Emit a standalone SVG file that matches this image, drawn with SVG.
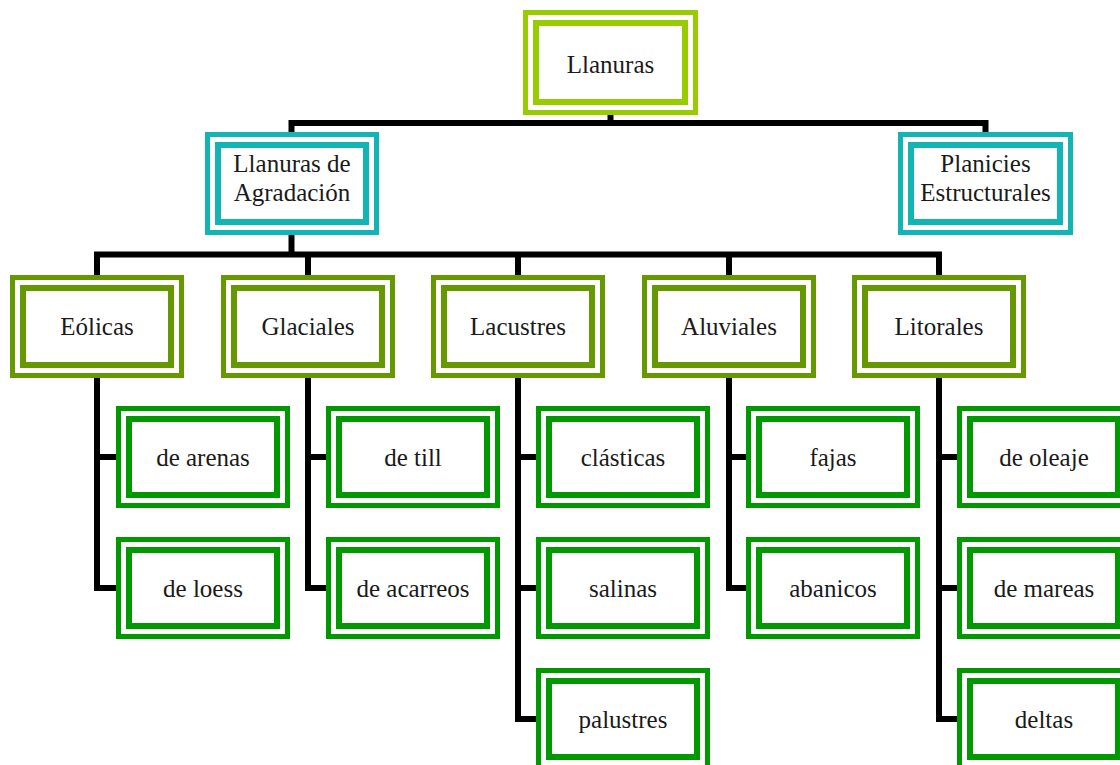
<svg xmlns="http://www.w3.org/2000/svg" width="1120" height="765" viewBox="0 0 1120 765">
<style>
.o{fill:#ffffff;stroke-width:5}
.i{fill:none;stroke-width:6}
.lime{stroke:#99CC00}
.teal{stroke:#12B4B4}
.olive{stroke:#669900}
.green{stroke:#009900}
text{font-family:"Liberation Serif","DejaVu Serif",serif;font-size:25px;fill:#1a1a1a;text-anchor:middle}
.c{fill:none;stroke:#000000;stroke-width:6;stroke-linejoin:miter}
</style>
<rect width="1120" height="765" fill="#ffffff"/>
<g id="connectors">
<path class="c" d="M610.5,115 V123"/>
<path class="c" d="M291.5,132 V123 H985.5 V132"/>
<path class="c" d="M291.5,235 V254.5"/>
<path class="c" d="M97,275 V254.5 H939 V275"/>
<path class="c" d="M308,254.5 V275"/>
<path class="c" d="M518,254.5 V275"/>
<path class="c" d="M729,254.5 V275"/>
<path class="c" d="M97,378 V588 H116"/>
<path class="c" d="M97,457 H116"/>
<path class="c" d="M308,378 V588 H326"/>
<path class="c" d="M308,457 H326"/>
<path class="c" d="M518,378 V719 H536"/>
<path class="c" d="M518,457 H536"/>
<path class="c" d="M518,588 H536"/>
<path class="c" d="M729,378 V588 H746"/>
<path class="c" d="M729,457 H746"/>
<path class="c" d="M939,378 V719 H957"/>
<path class="c" d="M939,457 H957"/>
<path class="c" d="M939,588 H957"/>
</g>
<g id="n-llanuras"><rect class="o lime" x="525.5" y="12.5" width="170" height="100"/><rect class="i lime" x="536" y="23" width="149" height="79"/><text x="610.5" y="73">Llanuras</text></g>
<g id="n-agradacion"><rect class="o teal" x="207.5" y="134.5" width="169" height="98"/><rect class="i teal" x="218" y="145" width="148" height="77"/><text x="292" y="172">Llanuras de</text><text x="292" y="201">Agradación</text></g>
<g id="n-planicies"><rect class="o teal" x="900.5" y="134.5" width="170" height="98"/><rect class="i teal" x="911" y="145" width="149" height="77"/><text x="985.5" y="172">Planicies</text><text x="985.5" y="201">Estructurales</text></g>
<g id="n-eolicas"><rect class="o olive" x="12.5" y="277.5" width="169" height="98"/><rect class="i olive" x="23" y="288" width="148" height="77"/><text x="97" y="335">Eólicas</text></g>
<g id="n-glaciales"><rect class="o olive" x="223.5" y="277.5" width="169" height="98"/><rect class="i olive" x="234" y="288" width="148" height="77"/><text x="308" y="335">Glaciales</text></g>
<g id="n-lacustres"><rect class="o olive" x="433.5" y="277.5" width="169" height="98"/><rect class="i olive" x="444" y="288" width="148" height="77"/><text x="518" y="335">Lacustres</text></g>
<g id="n-aluviales"><rect class="o olive" x="644.5" y="277.5" width="169" height="98"/><rect class="i olive" x="655" y="288" width="148" height="77"/><text x="729" y="335">Aluviales</text></g>
<g id="n-litorales"><rect class="o olive" x="854.5" y="277.5" width="169" height="98"/><rect class="i olive" x="865" y="288" width="148" height="77"/><text x="939" y="335">Litorales</text></g>
<g id="n-de-arenas"><rect class="o green" x="118.5" y="408.5" width="169" height="97"/><rect class="i green" x="129" y="419" width="148" height="76"/><text x="203" y="466">de arenas</text></g>
<g id="n-de-loess"><rect class="o green" x="118.5" y="539.5" width="169" height="97"/><rect class="i green" x="129" y="550" width="148" height="76"/><text x="203" y="597">de loess</text></g>
<g id="n-de-till"><rect class="o green" x="328.5" y="408.5" width="169" height="97"/><rect class="i green" x="339" y="419" width="148" height="76"/><text x="413" y="466">de till</text></g>
<g id="n-de-acarreos"><rect class="o green" x="328.5" y="539.5" width="169" height="97"/><rect class="i green" x="339" y="550" width="148" height="76"/><text x="413" y="597">de acarreos</text></g>
<g id="n-clasticas"><rect class="o green" x="538.5" y="408.5" width="169" height="97"/><rect class="i green" x="549" y="419" width="148" height="76"/><text x="623" y="466">clásticas</text></g>
<g id="n-salinas"><rect class="o green" x="538.5" y="539.5" width="169" height="97"/><rect class="i green" x="549" y="550" width="148" height="76"/><text x="623" y="597">salinas</text></g>
<g id="n-palustres"><rect class="o green" x="538.5" y="670.5" width="169" height="97"/><rect class="i green" x="549" y="681" width="148" height="76"/><text x="623" y="728">palustres</text></g>
<g id="n-fajas"><rect class="o green" x="748.5" y="408.5" width="169" height="97"/><rect class="i green" x="759" y="419" width="148" height="76"/><text x="833" y="466">fajas</text></g>
<g id="n-abanicos"><rect class="o green" x="748.5" y="539.5" width="169" height="97"/><rect class="i green" x="759" y="550" width="148" height="76"/><text x="833" y="597">abanicos</text></g>
<g id="n-de-oleaje"><rect class="o green" x="959.5" y="408.5" width="169" height="97"/><rect class="i green" x="970" y="419" width="148" height="76"/><text x="1044" y="466">de oleaje</text></g>
<g id="n-de-mareas"><rect class="o green" x="959.5" y="539.5" width="169" height="97"/><rect class="i green" x="970" y="550" width="148" height="76"/><text x="1044" y="597">de mareas</text></g>
<g id="n-deltas"><rect class="o green" x="959.5" y="670.5" width="169" height="97"/><rect class="i green" x="970" y="681" width="148" height="76"/><text x="1044" y="728">deltas</text></g>
</svg>
